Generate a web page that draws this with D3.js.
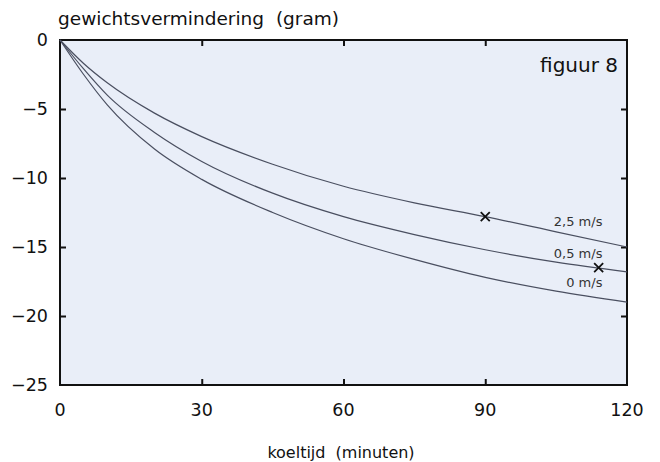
<!DOCTYPE html>
<html>
<head>
<meta charset="utf-8">
<script src="https://cdn.jsdelivr.net/npm/d3@7"></script>
<style>
  body { margin: 0; background: #fff; }
  text { font-family: "DejaVu Sans", sans-serif; fill: #111; }
</style>
</head>
<body>
<div id="chart"></div>
<script>
// koeltijd in minuten
const minutes = [0, 5, 10, 20, 30, 45, 60, 75, 90, 105, 120];
// gewichtsvermindering (gram) per luchtsnelheid
const wind25 = [0, -1.7, -3.1, -5.3, -7.0, -9.0, -10.6, -11.8, -12.8, -13.9, -15.0];
const wind05 = [0, -2.1, -4.0, -6.7, -8.8, -11.1, -12.8, -14.1, -15.2, -16.1, -16.8];
const wind0 = [0, -2.5, -4.7, -7.9, -10.1, -12.5, -14.4, -15.9, -17.2, -18.2, -19.0];
const seriesNames = ["2,5 m/s", "0,5 m/s", "0 m/s"];
const xTicks = [0, 30, 60, 90, 120];
const yTicks = [0, -5, -10, -15, -20, -25];
// meetpunten (x)
const markX = [90, 114];
const markY = [-12.8, -16.5];

const w = 660, h = 462;
const m = {left: 60, right: 33, top: 40, bottom: 77};
const innerW = w - m.left - m.right;
const innerH = h - m.top - m.bottom;

const svg = d3.select("#chart").append("svg")
  .attr("width", w)
  .attr("height", h);

const x = d3.scaleLinear().domain([0, 120]).range([m.left, m.left + innerW]);
const y = d3.scaleLinear().domain([-25, 0]).range([m.top + innerH, m.top]);

svg.append("rect")
  .attr("x", x(0)).attr("y", y(0))
  .attr("width", innerW).attr("height", innerH)
  .attr("fill", "#e9eef8");

const fmt = d => d < 0 ? "\u2212" + Math.abs(d) : "" + d;

// inner ticks on all four sides
const tickLen = 6;
const inner = [
  d3.axisBottom(x).tickValues(xTicks.slice(1, -1)).tickSizeInner(-tickLen).tickSizeOuter(0).tickFormat(""),
  d3.axisTop(x).tickValues(xTicks.slice(1, -1)).tickSizeInner(-tickLen).tickSizeOuter(0).tickFormat(""),
  d3.axisLeft(y).tickValues(yTicks.slice(1, -1)).tickSizeInner(-tickLen).tickSizeOuter(0).tickFormat(""),
  d3.axisRight(y).tickValues(yTicks.slice(1, -1)).tickSizeInner(-tickLen).tickSizeOuter(0).tickFormat("")
];
const trans = [
  `translate(0,${y(-25)})`, `translate(0,${y(0)})`,
  `translate(${x(0)},0)`, `translate(${x(120)},0)`
];
inner.forEach((ax, i) => {
  const g = svg.append("g").attr("transform", trans[i]).call(ax);
  g.select(".domain").remove();
  g.selectAll("line").attr("stroke", "#111").attr("stroke-width", 2);
});

svg.append("rect")
  .attr("x", x(0)).attr("y", y(0))
  .attr("width", innerW).attr("height", innerH)
  .attr("fill", "none").attr("stroke", "#111").attr("stroke-width", 2);

// tick labels
svg.append("g").selectAll("text")
  .data(xTicks).enter().append("text")
  .attr("x", d => x(d))
  .attr("y", y(-25) + 31)
  .attr("text-anchor", "middle")
  .attr("font-size", 17.5)
  .text(fmt);

svg.append("g").selectAll("text")
  .data(yTicks).enter().append("text")
  .attr("x", x(0) - 12)
  .attr("y", d => y(d) + 6)
  .attr("text-anchor", "end")
  .attr("font-size", 17.5)
  .text(fmt);

// curves
const line = d3.line()
  .x((d, i) => x(minutes[i]))
  .y(d => y(d))
  .curve(d3.curveMonotoneX);

[wind25, wind05, wind0].forEach(s => {
  svg.append("path")
    .attr("d", line(s))
    .attr("fill", "none")
    .attr("stroke", "#4a4f60")
    .attr("stroke-width", 1.2);
});

// markers
svg.append("g").selectAll("path")
  .data(markX).enter().append("path")
  .attr("d", (d, i) => {
    const cx = x(d), cy = y(markY[i]), r = 4.5;
    return `M${cx - r},${cy - r}L${cx + r},${cy + r}M${cx - r},${cy + r}L${cx + r},${cy - r}`;
  })
  .attr("stroke", "#111")
  .attr("stroke-width", 1.8);

// series labels
const labelY = [-13.5, -15.8, -17.9];
svg.append("g").selectAll("text")
  .data(seriesNames).enter().append("text")
  .attr("x", x(114.8))
  .attr("y", (d, i) => y(labelY[i]))
  .attr("text-anchor", "end")
  .attr("font-size", 13)
  .style("fill", "#333")
  .text(d => d);

svg.append("text")
  .attr("x", 618).attr("y", 72)
  .attr("text-anchor", "end")
  .attr("font-size", 20)
  .text("figuur 8");

svg.append("text")
  .attr("x", 58).attr("y", 25)
  .attr("font-size", 18.5)
  .style("word-spacing", "6px")
  .text("gewichtsvermindering (gram)");

svg.append("text")
  .attr("x", 341).attr("y", 458)
  .attr("text-anchor", "middle")
  .attr("font-size", 16)
  .style("word-spacing", "5px")
  .text("koeltijd (minuten)");
</script>
</body>
</html>
